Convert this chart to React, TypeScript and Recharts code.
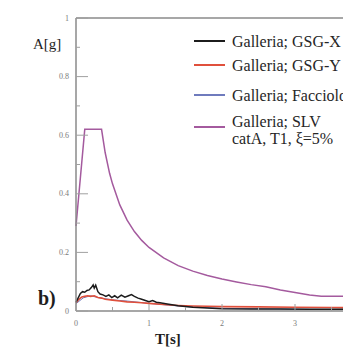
import React from "react";
import {
  LineChart,
  Line,
  XAxis,
  YAxis,
  Legend,
  ReferenceLine,
} from "recharts";

// Period T [s] and spectral acceleration A [g] for each record
const gsgXPeriods = [
  0, 0.03, 0.06, 0.09, 0.12, 0.15, 0.18, 0.21, 0.235, 0.25, 0.27, 0.3, 0.33,
  0.37, 0.41, 0.45, 0.49, 0.53, 0.57, 0.62, 0.67, 0.72, 0.76, 0.8, 0.85, 0.9,
  0.95, 1.0, 1.05, 1.1, 1.15, 1.25, 1.4, 1.6, 1.8, 2.0, 2.4, 2.8, 3.2, 3.6, 4.0,
];
const gsgXValues = [
  0.03, 0.045, 0.06, 0.066, 0.064, 0.07, 0.072, 0.08, 0.089, 0.078, 0.088,
  0.066, 0.058, 0.055, 0.05, 0.055, 0.046, 0.052, 0.045, 0.054, 0.047, 0.052,
  0.056, 0.05, 0.044, 0.04, 0.036, 0.032, 0.036, 0.03, 0.028, 0.024, 0.018,
  0.013, 0.01, 0.008, 0.007, 0.007, 0.006, 0.006, 0.005,
];

const gsgYPeriods = [
  0, 0.04, 0.08, 0.12, 0.16, 0.2, 0.25, 0.3, 0.35, 0.4, 0.5, 0.6, 0.7, 0.8,
  0.9, 1.0, 1.2, 1.4, 1.6, 1.8, 2.0, 2.5, 3.0, 3.5, 4.0,
];
const gsgYValues = [
  0.028, 0.04, 0.048, 0.05, 0.052, 0.05, 0.052, 0.046, 0.044, 0.04, 0.037,
  0.034, 0.031, 0.03, 0.028, 0.026, 0.022, 0.019, 0.017, 0.016, 0.015, 0.014,
  0.013, 0.012, 0.011,
];

const faccPeriods = [0, 0.1, 0.2, 0.3, 0.5, 0.7, 1.0, 1.5, 2.0, 3.0, 4.0];
const faccValues = [
  0.025, 0.045, 0.052, 0.046, 0.038, 0.034, 0.026, 0.015, 0.009, 0.006, 0.005,
];

const slvPeriods = [
  0, 0.12, 0.35, 0.4, 0.46, 0.5, 0.6, 0.7, 0.8, 0.9, 1.0, 1.2, 1.4, 1.6, 1.8,
  2.0, 2.2, 2.4, 2.6, 2.8, 3.0, 3.2, 3.36, 4.0,
];
const slvValues = [
  0.29, 0.62, 0.62, 0.54, 0.47, 0.434, 0.362, 0.31, 0.271, 0.241, 0.217, 0.181,
  0.155, 0.136, 0.121, 0.109, 0.099, 0.09, 0.083, 0.072, 0.063, 0.055, 0.05,
  0.05,
];

const yTicks = [0, 0.1, 0.2, 0.3, 0.4, 0.5, 0.6, 0.7, 0.8, 0.9, 1];
const xTicks = [0, 0.5, 1, 1.5, 2, 2.5, 3, 3.5];

const seriesNames = [
  "Galleria; GSG-X",
  "Galleria; GSG-Y",
  "Galleria; Facciolo",
  "Galleria; SLV\ncatA, T1, ξ=5%",
];

const toPoints = (ts: number[], as: number[]) =>
  ts.map((t, i) => ({ t, a: as[i] }));

const SERIF = "'Liberation Serif', 'Times New Roman', serif";
const AXIS = "#8a8a8a";
const TICK_GAP = 7;

const YTick = (props: any) => {
  const { x, y, payload } = props;
  const v = payload.value as number;
  const major = Math.round(v * 10) % 2 === 0;
  const ax = x + TICK_GAP;
  return (
    <g>
      <line x1={ax} x2={ax + (major ? 12 : 4)} y1={y} y2={y} stroke="#a0a0a0" />
      {major && (
        <text
          x={x}
          y={y}
          textAnchor="end"
          dominantBaseline="central"
          fontSize={8}
          fontFamily={SERIF}
          fill="#7a7a7a"
        >
          {String(v)}
        </text>
      )}
    </g>
  );
};

const XTick = (props: any) => {
  const { x, y, payload } = props;
  const v = payload.value as number;
  const major = Number.isInteger(v);
  const ay = y - TICK_GAP;
  return (
    <g>
      <line x1={x} x2={x} y1={ay} y2={ay - (major ? 7 : 4)} stroke="#a0a0a0" />
      {major && (
        <text
          x={x}
          y={y + 5}
          textAnchor="middle"
          dominantBaseline="central"
          fontSize={8}
          fontFamily={SERIF}
          fill="#7a7a7a"
        >
          {String(v)}
        </text>
      )}
    </g>
  );
};

// rows of the legend box, measured from its top edge
const rowY = [8, 32, 62, 94];

const LegendBox = (props: any) => {
  const payload = ((props.payload || []) as any[])
    .slice()
    .sort(
      (a, b) => seriesNames.indexOf(a.value) - seriesNames.indexOf(b.value)
    );
  return (
    <svg width={165} height={120} style={{ overflow: "hidden" }}>
      {payload.map((p, i) => {
        const lines = String(p.value).split("\n");
        const y = rowY[i];
        return (
          <g key={i}>
            <line x1={8} x2={39} y1={y} y2={y} stroke={p.color} strokeWidth={2} />
            {lines.map((s, j) => (
              <text
                key={j}
                x={46}
                y={y - (lines.length - 1) * 6 + j * 17}
                dominantBaseline="central"
                fontSize={16}
                fontFamily={SERIF}
                fill="#262626"
              >
                {s}
              </text>
            ))}
          </g>
        );
      })}
    </svg>
  );
};

const label = (
  text: string,
  left: number,
  top: number,
  size: number,
  weight: number
) => (
  <div
    style={{
      position: "absolute",
      left,
      top,
      fontFamily: SERIF,
      fontSize: size,
      fontWeight: weight,
      color: "#1e1e1e",
      lineHeight: 1,
      whiteSpace: "nowrap",
    }}
  >
    {text}
  </div>
);

export default function App() {
  return (
    <div
      style={{
        position: "relative",
        margin: "-8px 0 0 -8px",
        width: 351,
        height: 348,
        overflow: "hidden",
        background: "#fff",
      }}
    >
      <LineChart
        width={400}
        height={348}
        margin={{ top: 18, right: 32, bottom: 7, left: 0 }}
      >
        <XAxis
          dataKey="t"
          type="number"
          domain={[0, 4]}
          ticks={xTicks}
          height={30}
          tickSize={0}
          tickMargin={TICK_GAP}
          tick={<XTick />}
          axisLine={{ stroke: AXIS, strokeWidth: 1.5 }}
          allowDuplicatedCategory={false}
        />
        <YAxis
          type="number"
          domain={[0, 1]}
          ticks={yTicks}
          width={76}
          tickSize={0}
          tickMargin={TICK_GAP}
          tick={<YTick />}
          axisLine={{ stroke: AXIS, strokeWidth: 1.5 }}
        />
        <ReferenceLine y={1} stroke={AXIS} strokeWidth={1.5} />
        <Legend
          layout="vertical"
          align="center"
          verticalAlign="middle"
          content={<LegendBox />}
          wrapperStyle={{ position: "absolute", left: 186, top: 33, width: 165 }}
        />
        <Line
          data={toPoints(faccPeriods, faccValues)}
          dataKey="a"
          name={seriesNames[2]}
          stroke="#6f7bbd"
          strokeWidth={1}
          dot={false}
          isAnimationActive={false}
        />
        <Line
          data={toPoints(gsgYPeriods, gsgYValues)}
          dataKey="a"
          name={seriesNames[1]}
          stroke="#e0503c"
          strokeWidth={1.6}
          dot={false}
          isAnimationActive={false}
        />
        <Line
          data={toPoints(gsgXPeriods, gsgXValues)}
          dataKey="a"
          name={seriesNames[0]}
          stroke="#1c1c1c"
          strokeWidth={1.5}
          dot={false}
          isAnimationActive={false}
        />
        <Line
          data={toPoints(slvPeriods, slvValues)}
          dataKey="a"
          name={seriesNames[3]}
          stroke="#a45a9e"
          strokeWidth={1.5}
          dot={false}
          isAnimationActive={false}
        />
      </LineChart>
      {label("A[g]", 33, 37, 15, 400)}
      {label("b)", 38, 288, 20, 700)}
      {label("T[s]", 155, 332, 15, 700)}
    </div>
  );
}
